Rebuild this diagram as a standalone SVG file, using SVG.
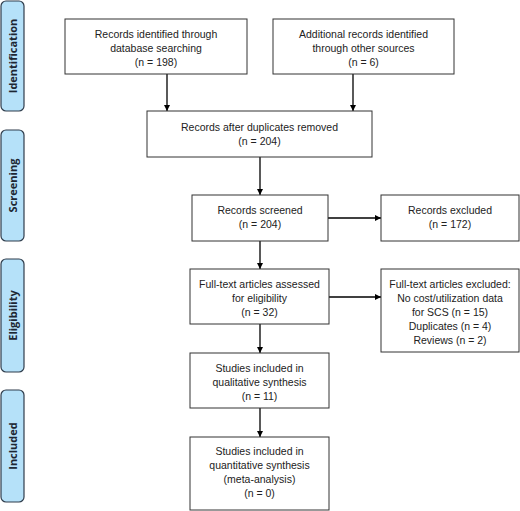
<svg xmlns="http://www.w3.org/2000/svg" width="520" height="511" viewBox="0 0 520 511">
<style>
.box{fill:#fff;stroke:#333;stroke-width:1}
.side{fill:#b5e1f9;stroke:#2f3d4c;stroke-width:1.2}
.t{font-family:"Liberation Sans",Arial,sans-serif;font-size:10.5px;fill:#222;text-anchor:middle}
.s{font-family:"Open Sans","Liberation Sans",sans-serif;font-size:11px;font-weight:bold;fill:#1d2733;text-anchor:middle}
.c{stroke:#000;stroke-width:1.3;fill:none;marker-end:url(#ah)}
</style>
<defs>
<marker id="ah" viewBox="0 0 10 10" refX="10" refY="5" markerWidth="6" markerHeight="6" markerUnits="userSpaceOnUse" orient="auto">
<path d="M0,0 L10,5 L0,10 z" fill="#000"/>
</marker>
</defs>
<rect width="520" height="511" fill="#fff"/>
<g id="side-identification"><rect class="side" x="1" y="1" width="23" height="110" rx="5"/><text class="s" transform="translate(16.5,56) rotate(-90)">Identification</text></g>
<g id="side-screening"><rect class="side" x="1" y="130" width="23" height="111" rx="5"/><text class="s" transform="translate(16.5,185.5) rotate(-90)">Screening</text></g>
<g id="side-eligibility"><rect class="side" x="1" y="259" width="23" height="113" rx="5"/><text class="s" transform="translate(16.5,315.5) rotate(-90)">Eligibility</text></g>
<g id="side-included"><rect class="side" x="1" y="390" width="23" height="112" rx="5"/><text class="s" transform="translate(16.5,446) rotate(-90)">Included</text></g>

<g id="connectors">
<line class="c" x1="167" y1="74" x2="167" y2="111"/>
<line class="c" x1="353" y1="74" x2="353" y2="111"/>
<line class="c" x1="260" y1="157" x2="260" y2="195"/>
<line class="c" x1="328" y1="218" x2="381" y2="218"/>
<line class="c" x1="260" y1="241" x2="260" y2="269"/>
<line class="c" x1="329" y1="297" x2="381" y2="297"/>
<line class="c" x1="260" y1="324" x2="260" y2="353"/>
<line class="c" x1="260" y1="408" x2="260" y2="437"/>
</g>

<g id="n1"><rect class="box" x="65" y="19" width="182" height="55"/>
<text class="t" x="156" y="38">Records identified through</text>
<text class="t" x="156" y="52">database searching</text>
<text class="t" x="156" y="66">(n = 198)</text></g>
<g id="n2"><rect class="box" x="273" y="19" width="181" height="55"/>
<text class="t" x="363.5" y="38">Additional records identified</text>
<text class="t" x="363.5" y="52">through other sources</text>
<text class="t" x="363.5" y="66">(n = 6)</text></g>
<g id="n3"><rect class="box" x="147" y="111" width="225" height="46"/>
<text class="t" x="259.5" y="131">Records after duplicates removed</text>
<text class="t" x="259.5" y="145">(n = 204)</text></g>
<g id="n4"><rect class="box" x="192" y="195" width="136" height="46"/>
<text class="t" x="260" y="214">Records screened</text>
<text class="t" x="260" y="228">(n = 204)</text></g>
<g id="n5"><rect class="box" x="381" y="195" width="138" height="46"/>
<text class="t" x="450" y="214">Records excluded</text>
<text class="t" x="450" y="228">(n = 172)</text></g>
<g id="n6"><rect class="box" x="190" y="269" width="139" height="55"/>
<text class="t" x="259.5" y="288">Full-text articles assessed</text>
<text class="t" x="259.5" y="302">for eligibility</text>
<text class="t" x="259.5" y="316">(n = 32)</text></g>
<g id="n7"><rect class="box" x="381" y="269" width="138" height="83"/>
<text class="t" x="450" y="288">Full-text articles excluded:</text>
<text class="t" x="450" y="302">No cost/utilization data</text>
<text class="t" x="450" y="316">for SCS (n = 15)</text>
<text class="t" x="450" y="330">Duplicates (n = 4)</text>
<text class="t" x="450" y="344">Reviews (n = 2)</text></g>
<g id="n8"><rect class="box" x="190" y="353" width="139" height="55"/>
<text class="t" x="259.5" y="372">Studies included in</text>
<text class="t" x="259.5" y="386">qualitative synthesis</text>
<text class="t" x="259.5" y="400">(n = 11)</text></g>
<g id="n9"><rect class="box" x="190" y="437" width="139" height="73"/>
<text class="t" x="259.5" y="455">Studies included in</text>
<text class="t" x="259.5" y="469">quantitative synthesis</text>
<text class="t" x="259.5" y="483">(meta-analysis)</text>
<text class="t" x="259.5" y="497">(n = 0)</text></g>
</svg>
